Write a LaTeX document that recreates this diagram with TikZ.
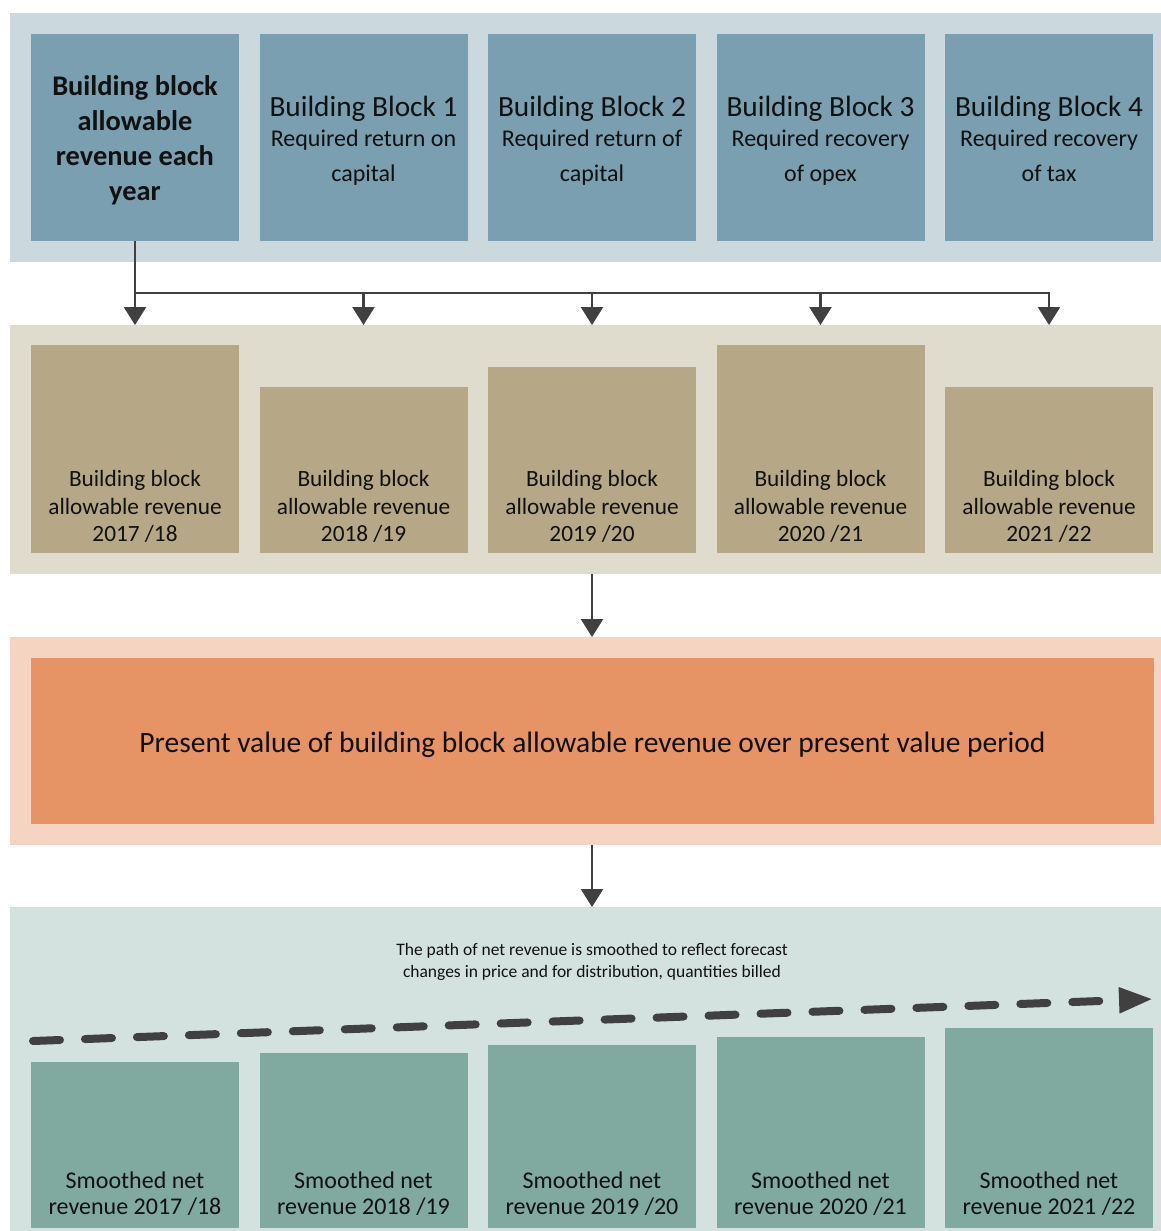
\documentclass[tikz,border=0pt]{standalone}
\usepackage{fontspec}
\setmainfont{Carlito}
\usetikzlibrary{arrows.meta}
\definecolor{pA}{HTML}{CBD9DF}
\definecolor{bA}{HTML}{7A9FB0}
\definecolor{pB}{HTML}{DFDCCE}
\definecolor{bB}{HTML}{B6A886}
\definecolor{pC}{HTML}{F5D4C2}
\definecolor{bC}{HTML}{E69466}
\definecolor{pD}{HTML}{D3E2DE}
\definecolor{bD}{HTML}{80A9A0}
\definecolor{ink}{HTML}{404040}
\definecolor{txt}{HTML}{111111}
\begin{document}
\begin{tikzpicture}[x=1pt,y=-1pt,
  panel/.style={rectangle,inner sep=0pt,outer sep=0pt,anchor=north west,minimum width=1151pt},
  box/.style={rectangle,inner sep=0pt,outer sep=0pt,anchor=north west,minimum width=208pt},
  topbox/.style={box,fill=bA,minimum height=207pt,text=txt,align=center},
  revbox/.style={box,fill=bB},
  smbox/.style={box,fill=bD},
  btxt/.style={anchor=south,inner sep=0pt,align=center,text=txt},
  arr/.style={draw=ink,line width=2.6pt,-{Triangle[length=18pt,width=22pt]}},
  conn/.style={draw=ink,line width=2.6pt}
]
\useasboundingbox (0,0) rectangle (1161,1231);
\fill[white] (0,0) rectangle (1161,1231);
% panels
\node[panel,fill=pA,minimum height=249pt] (p1) at (10,13) {};
\node[panel,fill=pB,minimum height=249pt] (p2) at (10,325) {};
\node[panel,fill=pC,minimum height=208pt] (p3) at (10,637) {};
\node[panel,fill=pD,minimum height=324pt] (p4) at (10,907) {};
% top boxes
\node[topbox,font=\fontsize{28.4}{35}\selectfont\bfseries] (t1) at (31,34) {\rule{0pt}{26pt}Building block\\allowable\\revenue each\\year};
\node[topbox,font=\fontsize{24}{35}\selectfont] (t2) at (259.5,34) {{\fontsize{29.3}{30}\selectfont\rule{0pt}{27pt}Building Block 1}\\[-5pt]Required return on\\capital};
\node[topbox,font=\fontsize{24}{35}\selectfont] (t3) at (488,34) {{\fontsize{29.3}{30}\selectfont\rule{0pt}{27pt}Building Block 2}\\[-5pt]Required return of\\capital};
\node[topbox,font=\fontsize{24}{35}\selectfont] (t4) at (716.5,34) {{\fontsize{29.3}{30}\selectfont\rule{0pt}{27pt}Building Block 3}\\[-5pt]Required recovery\\of opex};
\node[topbox,font=\fontsize{24}{35}\selectfont] (t5) at (945,34) {{\fontsize{29.3}{30}\selectfont\rule{0pt}{27pt}Building Block 4}\\[-5pt]Required recovery\\of tax\rule[-5pt]{0pt}{5pt}};
% revenue boxes
\node[revbox,minimum height=208pt] (r1) at (31,345) {};
\node[revbox,minimum height=166pt] (r2) at (259.5,387) {};
\node[revbox,minimum height=186pt] (r3) at (488,367) {};
\node[revbox,minimum height=208pt] (r4) at (716.5,345) {};
\node[revbox,minimum height=166pt] (r5) at (945,387) {};
\foreach \i/\y in {1/{2017 /18},2/{2018 /19},3/{2019 /20},4/{2020 /21},5/{2021 /22}}{
  \node[btxt,font=\fontsize{23.3}{27.8}\selectfont] (rt\i) at ([yshift=10pt]r\i.south) {Building block\\allowable revenue\\\y};
}
% present value
\node[rectangle,fill=bC,inner sep=0pt,outer sep=0pt,anchor=north west,minimum width=1123pt,minimum height=166pt,font=\fontsize{29.5}{32}\selectfont,text=txt] (pv) at (31,658) {\rule{0pt}{29pt}Present value of building block allowable revenue over present value period};
% smoothed boxes
\node[smbox,minimum height=166pt] (s1) at (31,1062) {};
\node[smbox,minimum height=175pt] (s2) at (259.5,1053) {};
\node[smbox,minimum height=183pt] (s3) at (488,1045) {};
\node[smbox,minimum height=191pt] (s4) at (716.5,1037) {};
\node[smbox,minimum height=200pt] (s5) at (945,1028) {};
\foreach \i/\y in {1/{2017 /18},2/{2018 /19},3/{2019 /20},4/{2020 /21},5/{2021 /22}}{
  \node[btxt,font=\fontsize{24}{26}\selectfont] (st\i) at ([yshift=12pt]s\i.south) {Smoothed net\\revenue \y};
}
\node[inner sep=0pt,align=center,font=\fontsize{17.5}{22}\selectfont,text=txt] (note) at (592,962) {The path of net revenue is smoothed to reflect forecast\\changes in price and for distribution, quantities billed};
% connectors
\coordinate (hb) at (0,293);
\draw[arr] (t1.south) -- (t1.south |- p2.north);
\draw[conn] (t1.south |- hb) -- (t5.south |- hb) -- ([yshift=1.3pt]t5.south |- hb);
\foreach \k in {2,3,4,5}{
  \draw[arr] (t\k.south |- hb) -- (t\k.south |- p2.north);
}
\draw[arr] (r3.south |- p2.south) -- (r3.south |- p3.north);
\draw[arr] (r3.south |- p3.south) -- (r3.south |- p4.north);
\coordinate (ds) at (33,1041);
\coordinate (de) at (1153,999);
\draw[draw=ink,line width=8pt,line cap=round,dash pattern=on 27pt off 25pt,-{Triangle[length=34pt,width=24pt]}] (ds) -- (de);
\end{tikzpicture}
\end{document}
